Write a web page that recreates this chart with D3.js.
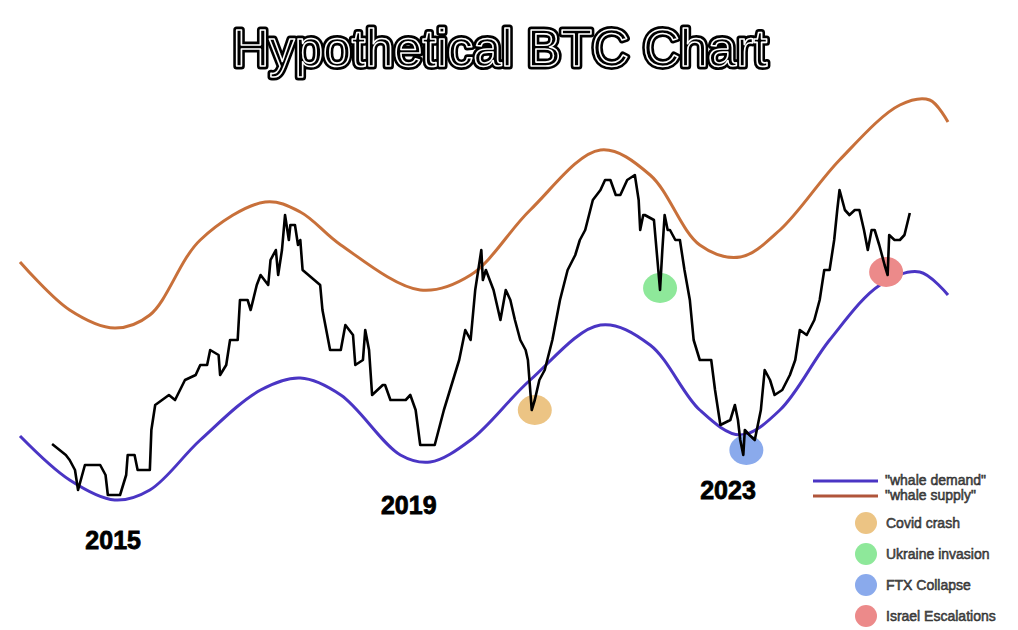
<!DOCTYPE html>
<html><head><meta charset="utf-8">
<script src="https://cdn.jsdelivr.net/npm/d3@7"></script>
<style>body{margin:0;background:#fff}svg{display:block}</style>
</head><body><svg id="c" width="1018" height="630"></svg>
<script>
// x: fractional year, y: price level index (0-100)
const demand = [[2014.0,32.8],[2014.65,24],[2015.24,20],[2015.7,22],[2016.36,32],[2017.15,42],[2017.67,44.4],[2018.2,41],[2018.98,29],[2019.37,27.6],[2019.9,32],[2020.68,44],[2021.6,55],[2022.25,51],[2022.9,38],[2023.43,33],[2023.95,38],[2024.6,52],[2025.26,63],[2025.78,65.6],[2026.15,61]];
const supply = [[2014.0,67.6],[2014.65,58],[2015.24,54.4],[2015.7,57],[2016.36,72],[2017.21,79.6],[2017.67,77.6],[2018.2,71],[2019.24,62],[2019.9,65],[2020.68,78],[2021.6,90],[2022.25,85],[2022.9,71],[2023.43,68.6],[2023.95,74],[2024.73,88],[2025.52,99],[2025.91,100],[2026.15,95.6]];
const price = [[2014.42,31.2],[2014.6,29],[2014.65,28],[2014.72,26],[2014.76,22],[2014.85,27],[2015.05,27],[2015.12,25],[2015.15,21],[2015.31,21],[2015.39,25],[2015.41,29],[2015.5,29],[2015.54,26],[2015.7,26],[2015.72,34],[2015.77,39],[2015.95,41],[2016.03,40],[2016.16,44],[2016.3,45],[2016.36,47],[2016.45,47],[2016.49,50],[2016.6,49],[2016.62,45],[2016.7,47],[2016.75,52],[2016.85,52],[2016.88,60],[2016.98,60],[2017.02,58],[2017.1,63],[2017.15,65],[2017.25,63],[2017.28,68],[2017.35,70],[2017.38,65],[2017.43,70],[2017.47,77],[2017.52,72],[2017.54,75],[2017.6,75],[2017.64,71],[2017.67,72],[2017.7,66],[2017.93,63],[2017.96,58],[2018.06,50],[2018.2,50],[2018.26,55],[2018.36,53],[2018.39,47],[2018.49,48],[2018.52,54],[2018.57,50],[2018.61,41],[2018.75,43],[2018.78,43],[2018.85,40],[2019.05,40],[2019.11,41],[2019.18,38],[2019.24,31],[2019.43,31],[2019.55,38],[2019.69,45],[2019.75,48],[2019.83,54],[2019.9,52],[2019.96,62],[2020.04,70],[2020.06,64],[2020.1,66],[2020.15,64],[2020.2,62],[2020.29,56],[2020.36,62],[2020.42,60],[2020.48,56],[2020.55,52],[2020.62,50],[2020.65,48],[2020.7,38],[2020.74,40],[2020.8,44],[2020.87,46],[2020.97,52],[2021.07,60],[2021.17,66],[2021.27,69],[2021.33,72],[2021.4,74],[2021.5,80],[2021.6,82],[2021.66,84],[2021.73,84],[2021.8,81],[2021.86,81],[2021.95,84],[2022.05,85],[2022.1,80],[2022.12,74],[2022.16,77],[2022.18,77],[2022.3,76],[2022.38,62],[2022.41,70],[2022.44,77],[2022.48,74],[2022.51,74],[2022.58,72],[2022.64,72],[2022.7,66],[2022.77,60],[2022.82,52],[2022.9,48],[2023.05,48],[2023.1,42],[2023.17,35],[2023.3,36],[2023.36,39],[2023.4,36],[2023.43,32],[2023.47,29],[2023.49,34],[2023.55,33],[2023.62,32],[2023.7,38],[2023.75,46],[2023.82,44],[2023.88,41],[2023.98,42],[2024.08,45],[2024.15,48],[2024.21,54],[2024.3,53],[2024.4,56],[2024.47,60],[2024.53,66],[2024.6,66],[2024.66,72],[2024.7,78],[2024.73,82],[2024.8,78],[2024.86,77],[2024.93,78],[2024.99,78],[2025.05,74],[2025.1,70],[2025.15,74],[2025.19,74],[2025.25,71],[2025.32,67],[2025.36,65],[2025.38,73],[2025.45,72],[2025.52,72],[2025.58,73],[2025.65,77.4]];
const events = [["Covid crash",2020.74,38,"#ecc484"],["Ukraine invasion",2022.38,62.4,"#8ee89a"],["FTX Collapse",2023.51,30,"#8aaaec"],["Israel Escalations",2025.34,65.6,"#ec8a8a"]];
const yearLabels = [["2015",2015.22,12],["2019",2019.09,19],["2023",2023.27,22]];
const seriesNames = ["\"whale demand\"","\"whale supply\""];

const svg = d3.select("#c");
const x = d3.scaleLinear().domain([2014,2026.7]).range([20,990]);
const y = d3.scaleLinear().domain([0,100]).range([600,100]);
const curve = d3.line().x(d=>x(d[0])).y(d=>y(d[1])).curve(d3.curveCatmullRom);
const jag = d3.line().x(d=>x(d[0])).y(d=>y(d[1]));

svg.append("path").attr("d",curve(supply)).attr("fill","none").attr("stroke","#c8703a").attr("stroke-width",3);
svg.append("path").attr("d",curve(demand)).attr("fill","none").attr("stroke","#4a35c4").attr("stroke-width",3);
svg.selectAll(".ev").data(events).join("ellipse").attr("cx",d=>x(d[1])).attr("cy",d=>y(d[2])).attr("rx",17).attr("ry",15).attr("fill",d=>d[3]);
svg.append("path").attr("d",jag(price)).attr("fill","none").attr("stroke","#000").attr("stroke-width",2.6).attr("stroke-linejoin","round");

const title = (stroke,sw,fill)=>svg.append("text").attr("x",500).attr("y",66).attr("text-anchor","middle")
  .attr("font-family","Liberation Sans, Arial, sans-serif").attr("font-size",52).attr("textLength",535).attr("lengthAdjust","spacingAndGlyphs")
  .attr("fill",fill).attr("stroke",stroke).attr("stroke-width",sw).attr("stroke-linejoin","round").text("Hypothetical BTC Chart");
title("#000",7,"#000"); title("#fff",1.6,"#000");

svg.selectAll(".yl").data(yearLabels).join("text").attr("x",d=>x(d[1])).attr("y",d=>y(d[2])+9)
  .attr("text-anchor","middle").attr("font-family","Liberation Sans, Arial, sans-serif").attr("font-weight","bold")
  .attr("font-size",25).attr("fill","#000").attr("stroke","#000").attr("stroke-width",0.8).text(d=>d[0]);

const lg = svg.append("g").attr("font-family","Liberation Sans, Arial, sans-serif").attr("font-size",14);
const lineCols = ["#4a35c4","#b0553a"];
seriesNames.forEach((n,i)=>{
  const yy = 481+i*15;
  lg.append("line").attr("x1",813).attr("x2",878).attr("y1",yy).attr("y2",yy).attr("stroke",lineCols[i]).attr("stroke-width",3);
  lg.append("text").attr("x",885).attr("y",yy+4).attr("fill","#555").attr("stroke","#222").attr("stroke-width",0.5).text(n);
});
events.forEach((e,i)=>{
  const yy = 523+i*31;
  lg.append("circle").attr("cx",866).attr("cy",yy).attr("r",11).attr("fill",e[3]);
  lg.append("text").attr("x",886).attr("y",yy+5).attr("fill","#555").attr("stroke","#222").attr("stroke-width",0.5).text(e[0]);
});
</script></body></html>
